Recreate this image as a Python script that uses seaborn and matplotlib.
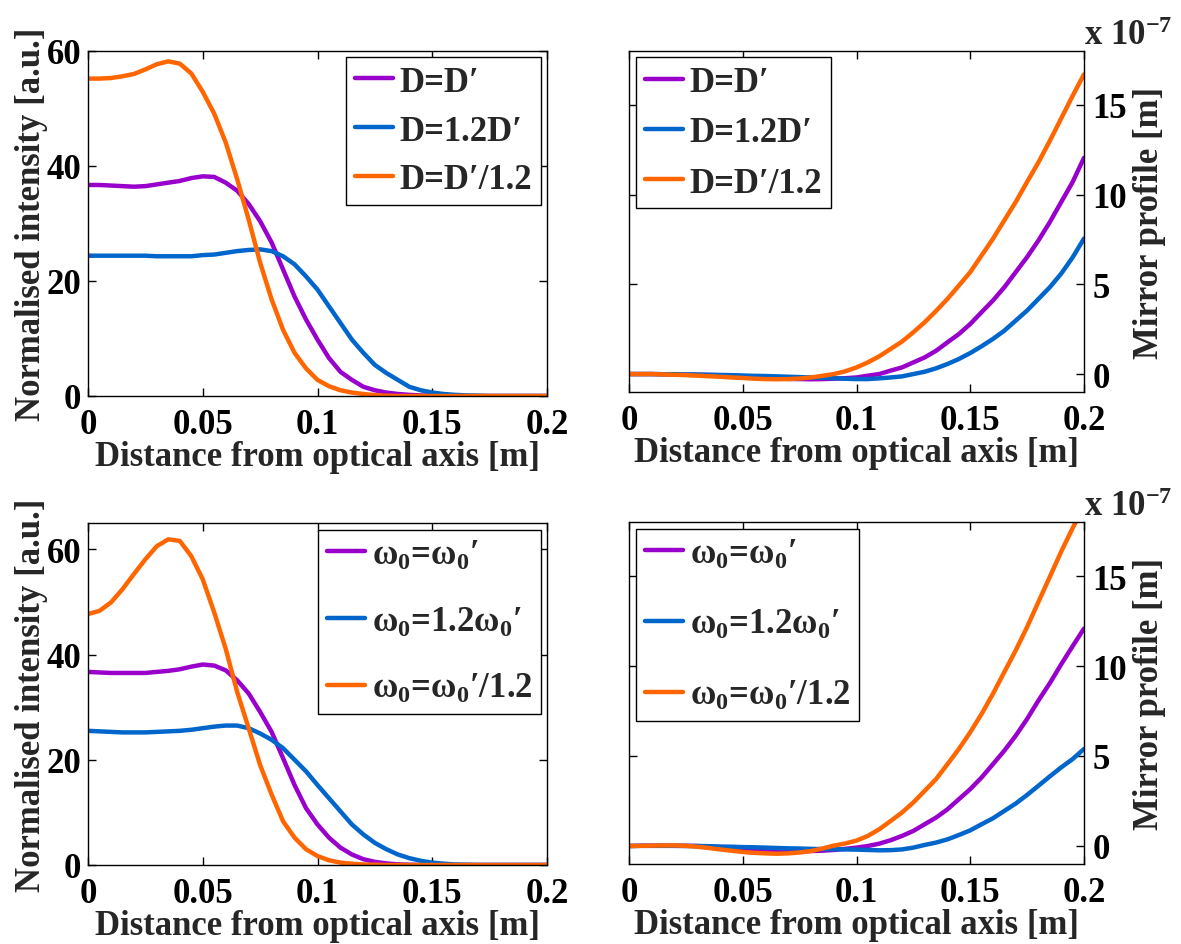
import numpy as np
import pandas as pd
import matplotlib
matplotlib.use("Agg")
import matplotlib.pyplot as plt
import seaborn as sns

# ---------------- data ----------------
x_int = [round(0.005 * i, 3) for i in range(41)]   # distance [m], intensity panels
x_mir = [round(0.005 * i, 3) for i in range(41)]   # distance [m], mirror panels

labels_D = ["D=D\u2032", "D=1.2D\u2032", "D=D\u2032/1.2"]
labels_w = ["\u03c9$_0$=\u03c9$_0$\u2032", "\u03c9$_0$=1.2\u03c9$_0$\u2032", "\u03c9$_0$=\u03c9$_0$\u2032/1.2"]
colors = ["#9900CC", "#0066CC", "#FF6600"]

# Top-left: normalised intensity, varying D
int_D_equal = [36.7, 36.7, 36.6, 36.5, 36.4, 36.5, 36.8, 37.1, 37.4, 37.9, 38.2, 38.1, 37.1, 35.7,
               33.4, 30.4, 26.7, 22.0, 17.3, 13.3, 9.8, 6.6, 4.2, 2.8, 1.6, 1.0, 0.6, 0.35, 0.2,
               0.1, 0.05, 0, 0, 0, 0, 0, 0, 0, 0, 0, 0]
int_D_12 = [24.4, 24.4, 24.4, 24.4, 24.4, 24.4, 24.3, 24.3, 24.3, 24.3, 24.5, 24.6, 24.9, 25.2,
            25.4, 25.5, 25.2, 24.3, 22.9, 20.8, 18.5, 15.6, 12.7, 9.8, 7.5, 5.4, 4.0, 2.8, 1.6,
            1.0, 0.6, 0.35, 0.2, 0.1, 0.05, 0, 0, 0, 0, 0, 0]
int_D_div = [55.2, 55.2, 55.3, 55.6, 56.0, 56.8, 57.7, 58.2, 57.8, 56.1, 52.9, 49.1, 44.1, 37.7,
             30.7, 23.2, 16.8, 11.5, 7.5, 4.8, 2.8, 1.7, 1.0, 0.6, 0.35, 0.15, 0.05, 0, 0, 0,
             0, 0, 0, 0, 0, 0, 0, 0, 0, 0, 0]

# Bottom-left: normalised intensity, varying w0
int_w_equal = [36.7, 36.6, 36.5, 36.5, 36.5, 36.5, 36.7, 36.9, 37.2, 37.7, 38.1, 37.9, 37.0, 35.1,
               32.6, 29.1, 25.3, 20.3, 15.2, 10.8, 7.7, 5.2, 3.3, 2.0, 1.1, 0.6, 0.3, 0.12, 0.05,
               0, 0, 0, 0, 0, 0, 0, 0, 0, 0, 0, 0]
int_w_12 = [25.5, 25.4, 25.3, 25.2, 25.2, 25.2, 25.3, 25.4, 25.5, 25.7, 26.0, 26.3, 26.5, 26.5,
            26.0, 25.0, 23.8, 22.2, 20.0, 17.8, 15.2, 12.7, 10.2, 7.7, 5.8, 4.2, 3.0, 2.0, 1.3,
            0.8, 0.45, 0.25, 0.1, 0.05, 0, 0, 0, 0, 0, 0, 0]
int_w_div = [47.7, 48.3, 49.9, 52.4, 55.3, 58.1, 60.6, 61.9, 61.6, 58.7, 54.3, 48.0, 41.1, 32.9,
             26.0, 19.0, 13.4, 8.3, 5.2, 3.0, 1.7, 0.9, 0.45, 0.25, 0.1, 0.05, 0, 0, 0, 0, 0,
             0, 0, 0, 0, 0, 0, 0, 0, 0, 0]

# Top-right: mirror profile (units of 1e-7 m), varying D
mir_D_equal = [0, 0, 0, -0.01, -0.02, -0.03, -0.04, -0.05, -0.07, -0.09, -0.12, -0.16, -0.2,
               -0.24, -0.27, -0.28, -0.29, -0.28, -0.26, -0.23, -0.19,
               -0.09, 0, 0.19, 0.37, 0.65, 0.93, 1.30, 1.77, 2.23, 2.79, 3.45, 4.10, 4.84, 5.68,
               6.52, 7.45, 8.47, 9.59, 10.7, 12.05]
mir_D_12 = [0, 0, 0, -0.01, -0.01, -0.02, -0.03, -0.04, -0.05, -0.06, -0.08, -0.1, -0.11,
            -0.13, -0.15, -0.17, -0.19, -0.21, -0.23, -0.26, -0.28,
            -0.28, -0.24, -0.19, -0.13, 0, 0.13, 0.32, 0.56, 0.84, 1.17, 1.55, 1.96, 2.42,
            2.98, 3.54, 4.19, 4.84, 5.6, 6.5, 7.55]
mir_D_div = [0, 0, 0, -0.02, -0.04, -0.06, -0.09, -0.12, -0.15, -0.19, -0.22, -0.26, -0.28,
             -0.29, -0.28, -0.25, -0.19, -0.1, 0, 0.15, 0.37,
             0.65, 0.99, 1.40, 1.81, 2.33, 2.89, 3.52, 4.19, 4.93, 5.68, 6.61, 7.54, 8.57,
             9.59, 10.71, 11.8, 13.0, 14.25, 15.5, 16.7]

# Bottom-right: mirror profile (units of 1e-7 m), varying w0
mir_w_equal = [0, 0.01, 0.01, 0.01, 0.01, 0.01, 0, -0.03, -0.07, -0.11, -0.15, -0.19, -0.22,
               -0.25, -0.28, -0.29, -0.28, -0.26, -0.22, -0.16, -0.09,
               0, 0.13, 0.32, 0.56, 0.84, 1.21, 1.58, 2.04, 2.60, 3.16, 3.81, 4.55, 5.30, 6.13,
               7.06, 8.09, 9.05, 10.1, 11.1, 12.08]
mir_w_12 = [0, 0.01, 0.01, 0.01, 0.01, 0, 0, -0.01, -0.03, -0.04, -0.06, -0.07, -0.09, -0.11,
            -0.13, -0.14, -0.16, -0.17, -0.18, -0.19, -0.2,
            -0.22, -0.24, -0.23, -0.19, -0.09, 0.06, 0.19, 0.37, 0.61, 0.87, 1.21, 1.54, 1.95,
            2.36, 2.84, 3.35, 3.87, 4.37, 4.83, 5.39]
mir_w_div = [0, 0.01, 0.02, 0.03, 0.03, 0.01, -0.04, -0.11, -0.19, -0.26, -0.33, -0.38, -0.41,
             -0.43, -0.41, -0.36, -0.28, -0.14, 0.02, 0.14, 0.3,
             0.56, 0.93, 1.39, 1.86, 2.42, 3.07, 3.72, 4.55, 5.39, 6.32, 7.34, 8.46, 9.67,
             10.87, 12.17, 13.57, 14.96, 16.36, 17.66, 18.9]

x_ticks = [0, 0.05, 0.1, 0.15, 0.2]
x_ticklabels = ["0", "0.05", "0.1", "0.15", "0.2"]
int_ticks = [0, 20, 40, 60]
mir_ticks = [0, 5, 10, 15]

# ---------------- style ----------------
sns.set_theme(style="white")
plt.rcParams["font.family"] = ["Liberation Serif", "DejaVu Serif"]
plt.rcParams["font.weight"] = "bold"
plt.rcParams["axes.labelweight"] = "bold"
plt.rcParams["mathtext.fontset"] = "custom"
plt.rcParams["mathtext.rm"] = "Liberation Serif:bold"
plt.rcParams["mathtext.it"] = "Liberation Serif:bold"
plt.rcParams["mathtext.bf"] = "Liberation Serif:bold"

W, H = 1181, 945
fig = plt.figure(figsize=(W / 100, H / 100), dpi=100)
fig.patch.set_facecolor("white")

TICK_FS = 25
LABEL_FS = 25
LEG_FS = 25


def px_axes(x0, y0, x1, y1):
    return fig.add_axes([x0 / W, 1 - y1 / H, (x1 - x0) / W, (y1 - y0) / H])


def draw(ax, xv, series, labels, ylim, yticks, right, leg_anchor, leg_loc, spacing):
    frames = []
    for vals, lab in zip(series, labels):
        frames.append(pd.DataFrame({"x": xv, "y": vals, "case": lab}))
    df = pd.concat(frames, ignore_index=True)
    sns.lineplot(data=df, x="x", y="y", hue="case", hue_order=labels,
                 palette=colors, ax=ax, linewidth=3.2, estimator=None, sort=False)
    ax.set_xlim(0, 0.2)
    ax.set_ylim(*ylim)
    ax.set_xticks(x_ticks)
    ax.set_xticklabels(x_ticklabels)
    ax.set_yticks(yticks)
    ax.set_yticklabels([str(t) for t in yticks])
    ax.tick_params(direction="in", length=6, width=1, colors="black",
                   labelsize=TICK_FS, top=True, right=True, left=True, bottom=True)
    ax.tick_params(axis="x", pad=9)
    for s in ax.spines.values():
        s.set_color("black")
        s.set_linewidth(1)
    ax.set_xlabel("Distance from optical axis [m]", fontsize=LABEL_FS, labelpad=-1)
    if right:
        ax.yaxis.tick_right()
        ax.tick_params(axis="y", left=True, right=True, labelleft=False, labelright=True,
                       pad=6)
        ax.yaxis.set_label_position("right")
        ax.set_ylabel("Mirror profile [m]", fontsize=LABEL_FS, labelpad=4)
        ax.annotate("x 10$^{-7}$", xy=(1, 1), xycoords="axes fraction",
                    xytext=(0, 5), textcoords="offset points",
                    ha="left", va="baseline", fontsize=LABEL_FS)
    else:
        ax.tick_params(axis="y", pad=5)
        ax.set_ylabel("Normalised intensity [a.u.]", fontsize=LABEL_FS, labelpad=-1)
    leg = ax.legend(loc=leg_loc, bbox_to_anchor=leg_anchor, borderaxespad=0,
                    fontsize=LEG_FS, frameon=True, fancybox=False, framealpha=1,
                    handlelength=1.1, handletextpad=0.2, labelspacing=spacing,
                    borderpad=0.25)
    leg.get_frame().set_edgecolor("black")
    leg.get_frame().set_linewidth(1)
    for line in leg.get_lines():
        line.set_linewidth(3.2)


ax1 = px_axes(88, 52, 547, 397)
draw(ax1, x_int, [int_D_equal, int_D_12, int_D_div], labels_D, (0, 60), int_ticks,
     False, (0.987, 0.983), "upper right", 0.46)

ax2 = px_axes(629, 52, 1084, 393)
draw(ax2, x_mir, [mir_D_equal, mir_D_12, mir_D_div], labels_D, (-1, 18), mir_ticks,
     True, (0.015, 0.982), "upper left", 0.5)

ax3 = px_axes(88, 524, 547, 866)
draw(ax3, x_int, [int_w_equal, int_w_12, int_w_div], labels_w, (0, 65), int_ticks,
     False, (0.987, 0.98), "upper right", 0.97)

ax4 = px_axes(629, 523, 1084, 865)
draw(ax4, x_mir, [mir_w_equal, mir_w_12, mir_w_div], labels_w, (-1, 18), mir_ticks,
     True, (0.015, 0.98), "upper left", 1.08)

fig.savefig("out.png", dpi=100, facecolor="white")
